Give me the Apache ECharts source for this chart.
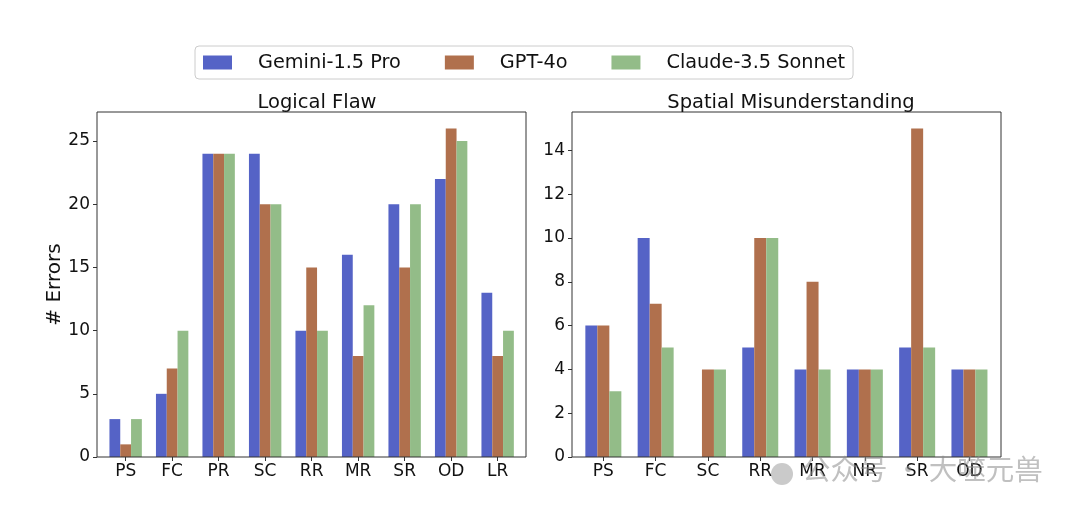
<!DOCTYPE html>
<html><head><meta charset="utf-8">
<script src="https://cdn.jsdelivr.net/npm/echarts@6/dist/echarts.min.js"></script>
<style>html,body{margin:0;padding:0;background:#fff}#c{width:1080px;height:513px}</style>
</head><body><div id="c"></div>
<script>
const seriesNames = ['Gemini-1.5 Pro', 'GPT-4o', 'Claude-3.5 Sonnet'];
const colors = ['#5563c6', '#b0704d', '#93bc88'];

const logicalCats = ['PS', 'FC', 'PR', 'SC', 'RR', 'MR', 'SR', 'OD', 'LR'];
const logicalGemini = [3, 5, 24, 24, 10, 16, 20, 22, 13];
const logicalGPT = [1, 7, 24, 20, 15, 8, 15, 26, 8];
const logicalClaude = [3, 10, 24, 20, 10, 12, 20, 25, 10];

const spatialCats = ['PS', 'FC', 'SC', 'RR', 'MR', 'NR', 'SR', 'OD'];
const spatialGemini = [6, 10, 0, 5, 4, 4, 5, 4];
const spatialGPT = [6, 7, 4, 10, 8, 4, 15, 4];
const spatialClaude = [3, 5, 4, 10, 4, 4, 5, 4];

const titles = ['Logical Flaw', 'Spatial Misunderstanding'];
const yLabel = '# Errors';
const watermark = '公众号 · 大噬元兽';

const font = 'DejaVu Sans';
const axisColor = '#333';

function xAxis(gi, cats) {
  return {
    type: 'category', gridIndex: gi, data: cats,
    axisLine: {show: false},
    axisTick: {show: true, alignWithLabel: true, length: 4, lineStyle: {color: axisColor}},
    axisLabel: {color: '#111', fontFamily: font, fontSize: 17, margin: 6}
  };
}
function yAxis(gi, max, interval, name, off) {
  return {
    type: 'value', gridIndex: gi, min: 0, max: max, interval: interval, offset: off,
    name: name, nameLocation: 'middle', nameGap: 31, nameRotate: 90,
    nameTextStyle: {color: '#111', fontFamily: font, fontSize: 20},
    axisLine: {show: false},
    axisTick: {show: true, length: 4, lineStyle: {color: axisColor}},
    axisLabel: {color: '#111', fontFamily: font, fontSize: 17, margin: 7, showMaxLabel: false},
    splitLine: {show: false}
  };
}
function hiddenAxis(gi) {
  return {type: 'value', gridIndex: gi, show: false, min: 0, max: 1, splitLine: {show: false}};
}
function bars(gi, data, idx, bw) {
  return {
    type: 'bar', name: seriesNames[idx], xAxisIndex: gi, yAxisIndex: gi,
    data: data, barWidth: bw, barGap: '0%',
    itemStyle: {color: colors[idx]}
  };
}

const chart = echarts.init(document.getElementById('c'), null, {renderer: 'canvas'});
chart.setOption({
  animation: false,
  backgroundColor: '#fff',
  legend: {
    top: 46, left: 195, data: seriesNames,
    itemWidth: 29, itemHeight: 14, itemGap: 44,
    icon: 'rect',
    textStyle: {fontFamily: font, fontSize: 19.3, color: '#111', padding: [0, 0, 0, 21]},
    borderColor: '#ccc', borderWidth: 1, borderRadius: 4,
    padding: [7, 8, 7, 8]
  },
  title: [
    {text: titles[0], left: 312, top: 88, textAlign: 'center',
     textStyle: {fontFamily: font, fontSize: 19.5, fontWeight: 'normal', color: '#111'}},
    {text: titles[1], left: 786, top: 88, textAlign: 'center',
     textStyle: {fontFamily: font, fontSize: 19.5, fontWeight: 'normal', color: '#111'}}
  ],
  grid: [
    {left: 102.4, top: 112, width: 418.5, height: 345, show: false},
    {left: 577.2, top: 112, width: 418.4, height: 345, show: false},
    {left: 97, top: 112, width: 429, height: 345, show: true, borderColor: axisColor, borderWidth: 1, backgroundColor: 'transparent', z: 3},
    {left: 572, top: 112, width: 429, height: 345, show: true, borderColor: axisColor, borderWidth: 1, backgroundColor: 'transparent', z: 3}
  ],
  xAxis: [xAxis(0, logicalCats), xAxis(1, spatialCats), hiddenAxis(2), hiddenAxis(3)],
  yAxis: [yAxis(0, 27.3, 5, yLabel, 5.4), yAxis(1, 15.75, 2, '', 5.2), hiddenAxis(2), hiddenAxis(3)],
  series: [
    bars(0, logicalGemini, 0, 10.8), bars(0, logicalGPT, 1, 10.8), bars(0, logicalClaude, 2, 10.8),
    bars(1, spatialGemini, 0, 12), bars(1, spatialGPT, 1, 12), bars(1, spatialClaude, 2, 12)
  ],
  graphic: [
    {type: 'circle', shape: {cx: 782, cy: 474, r: 11}, style: {fill: 'rgba(150,150,150,0.5)'}, z: 100},
    {type: 'text', left: 802, top: 455, z: 100,
     style: {text: watermark, fontFamily: 'Noto Sans CJK SC', fontSize: 28.5, fill: 'rgba(140,140,140,0.55)'}}
  ]
});
</script></body></html>
